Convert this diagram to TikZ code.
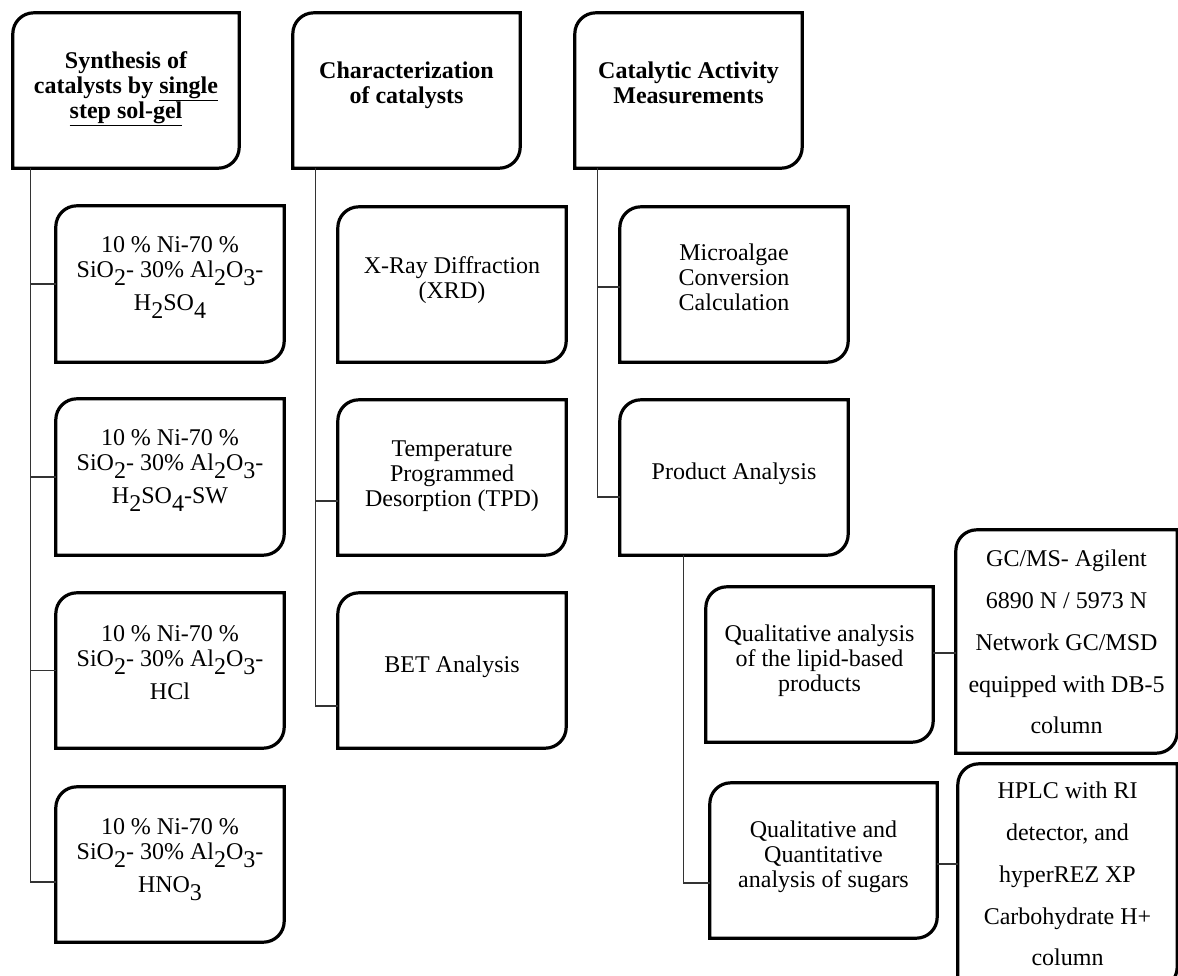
\documentclass[tikz,border=0pt]{standalone}
\usepackage{fontspec}
\setmainfont{Liberation Serif}
\usetikzlibrary{calc}
\newcommand{\chsub}[1]{\raisebox{-0.32em}{#1}}
\newcommand{\frm}[1]{\draw[frame] (#1.south west) -- ([yshift=-21pt]#1.north west) arc[start angle=180,end angle=90,radius=21pt] -- (#1.north east) -- ([yshift=21pt]#1.south east) arc[start angle=0,end angle=-90,radius=21pt] -- cycle;}
\tikzset{
  x=1pt, y=1pt,
  box/.style={rectangle, inner sep=0pt, draw=none},
  frame/.style={draw=black, line width=3.2pt, line join=miter},
  conn/.style={draw=black!80, line width=1.2pt},
  txt/.style={inner sep=0pt, anchor=north, align=center, font=\fontsize{24}{25}\selectfont},
  wide/.style={inner sep=0pt, anchor=north, align=center, font=\fontsize{24}{41.8}\selectfont},
  hd/.style={inner sep=0pt, anchor=north, align=center, font=\fontsize{24}{25}\selectfont\bfseries}
}
\begin{document}
\begin{tikzpicture}
\useasboundingbox (0,0) rectangle (1178,-975);
\clip (0,0) rectangle (1178,-975);
% headers
\node[box, minimum width=226pt, minimum height=155pt] (h1) at (126,-90.5) {};
\node[box, minimum width=227pt, minimum height=155pt] (h2) at (406.5,-90.5) {};
\node[box, minimum width=227pt, minimum height=155pt] (h3) at (688.5,-90.5) {};
% column 1
\node[box, minimum width=228pt, minimum height=156pt] (c1) at (170,-284) {};
\node[box, minimum width=228pt, minimum height=156pt] (c2) at (170,-477) {};
\node[box, minimum width=228pt, minimum height=155pt] (c3) at (170,-670.5) {};
\node[box, minimum width=228pt, minimum height=155pt] (c4) at (170,-864.5) {};
% column 2
\node[box, minimum width=228pt, minimum height=155pt] (x1) at (452,-284.5) {};
\node[box, minimum width=228pt, minimum height=155pt] (x2) at (452,-477.5) {};
\node[box, minimum width=228pt, minimum height=155pt] (x3) at (452,-670.5) {};
% column 3
\node[box, minimum width=228pt, minimum height=155pt] (m1) at (734,-284.5) {};
\node[box, minimum width=228pt, minimum height=155pt] (m2) at (734,-477.5) {};
\node[box, minimum width=227pt, minimum height=155pt] (lp) at (819.5,-664.5) {};
\node[box, minimum width=227pt, minimum height=155pt] (sg) at (823.5,-860.5) {};
\node[box, minimum width=221pt, minimum height=223pt] (gc) at (1066.5,-641.5) {};
\node[box, minimum width=219pt, minimum height=224pt] (hp) at (1067.5,-876) {};

\foreach \n in {h1,h2,h3,c1,c2,c3,c4,x1,x2,x3,m1,m2,lp,sg,gc,hp} {\frm{\n}}

% texts
\node[hd] (th1) at ([yshift=-39pt]h1.north) {Synthesis of\\catalysts by \underline{single}\\\underline{step sol-gel}};
\node[hd] (th2) at ([yshift=-49pt]h2.north) {Characterization\\of catalysts};
\node[hd] (th3) at ([yshift=-49pt]h3.north) {Catalytic Activity\\Measurements};
\node[txt] (tc1) at ([yshift=-31pt]c1.north) {10 \% Ni-70 \%\\SiO\chsub{2}- 30\% Al\chsub{2}O\chsub{3}-\\[8pt]H\chsub{2}SO\chsub{4}};
\node[txt] (tc2) at ([yshift=-31pt]c2.north) {10 \% Ni-70 \%\\SiO\chsub{2}- 30\% Al\chsub{2}O\chsub{3}-\\[8pt]H\chsub{2}SO\chsub{4}-SW};
\node[txt] (tc3) at ([yshift=-33pt]c3.north) {10 \% Ni-70 \%\\SiO\chsub{2}- 30\% Al\chsub{2}O\chsub{3}-\\[8pt]HCl};
\node[txt] (tc4) at ([yshift=-32pt]c4.north) {10 \% Ni-70 \%\\SiO\chsub{2}- 30\% Al\chsub{2}O\chsub{3}-\\[8pt]HNO\chsub{3}};
\node[txt] (tx1) at ([yshift=-50pt]x1.north) {X-Ray Diffraction\\(XRD)};
\node[txt] (tx2) at ([yshift=-41pt]x2.north) {Temperature\\Programmed\\Desorption (TPD)};
\node[txt] (tx3) at ([yshift=-63pt]x3.north) {BET Analysis};
\node[txt] (tm1) at ([yshift=-37pt]m1.north) {Microalgae\\Conversion\\Calculation};
\node[txt] (tm2) at ([yshift=-63pt]m2.north) {Product Analysis};
\node[txt] (tlp) at ([yshift=-38pt]lp.north) {Qualitative analysis\\of the lipid-based\\products};
\node[txt] (tsg) at ([yshift=-38pt]sg.north) {Qualitative and\\Quantitative\\analysis of sugars};
\node[wide] (tgc) at ([yshift=-20pt]gc.north) {GC/MS- Agilent\\6890 N / 5973 N\\Network GC/MSD\\equipped with DB-5\\column};
\node[wide] (thp) at ([yshift=-18pt]hp.north) {HPLC with RI\\detector, and\\hyperREZ XP\\Carbohydrate H+\\column};

% connectors
\draw[conn] ([xshift=18pt]h1.south west) |- (c1.west);
\draw[conn] ([xshift=18pt]h1.south west) |- (c2.west);
\draw[conn] ([xshift=18pt]h1.south west) |- (c3.west);
\draw[conn] ([xshift=18pt]h1.south west) |- ([yshift=-17.5pt]c4.west);
\draw[conn] ([xshift=23pt]h2.south west) |- ([yshift=-23.5pt]x2.west);
\draw[conn] ([xshift=23pt]h2.south west) |- ([yshift=-35.5pt]x3.west);
\draw[conn] ([xshift=23pt]h3.south west) |- ([yshift=-2.5pt]m1.west);
\draw[conn] ([xshift=23pt]h3.south west) |- ([yshift=-19.5pt]m2.west);
\draw[conn] ([xshift=64pt]m2.south west) |- ([yshift=-22.5pt]sg.west);
\draw[conn] ([yshift=11.5pt]lp.east) -- ([yshift=11.5pt]lp.east -| gc.west);
\draw[conn] ([yshift=-3.5pt]sg.east) -- ([yshift=-3.5pt]sg.east -| hp.west);
\end{tikzpicture}
\end{document}
